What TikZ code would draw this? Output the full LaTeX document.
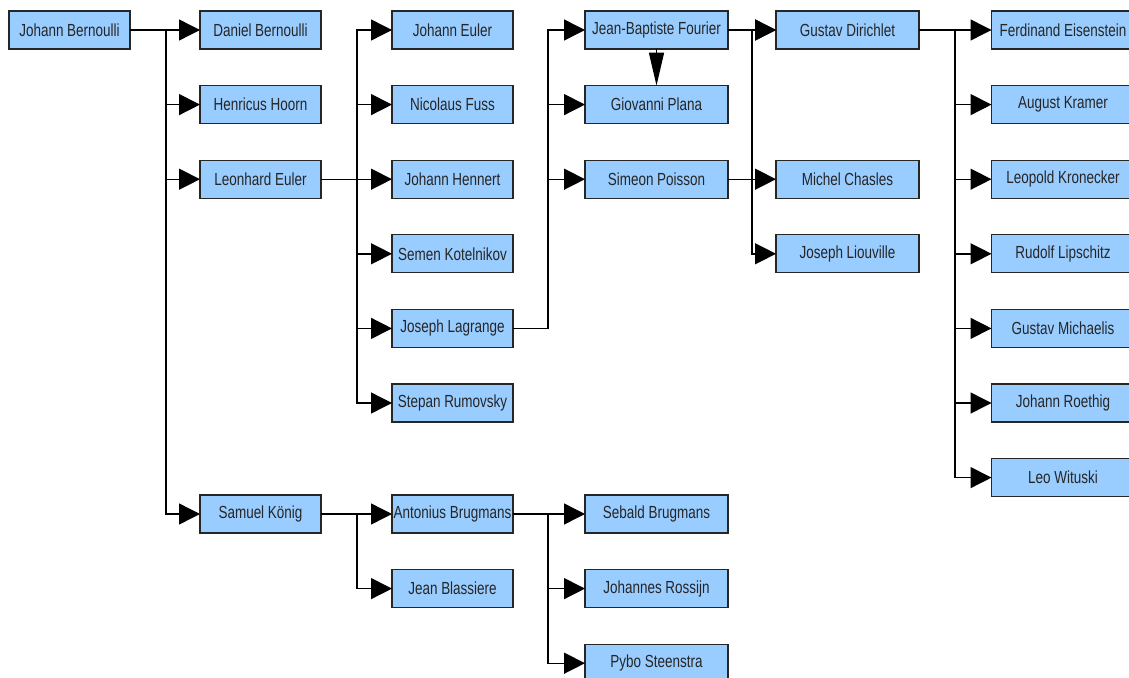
\documentclass[tikz,border=0pt]{standalone}
\usepackage{fontspec}
\setmainfont{Liberation Sans}[FakeStretch=0.77]
\usetikzlibrary{arrows.meta}

\definecolor{boxblue}{HTML}{99CCFF}

\begin{document}
\begin{tikzpicture}[x=1pt, y=-1pt,
  person/.style={draw=black!85, line width=1.3pt, fill=boxblue,
    minimum width=121pt, minimum height=38pt, inner sep=0pt, outer sep=0pt,
    font=\fontsize{17.5}{20}\selectfont, text=black!85},
  wide/.style={person, minimum width=143pt},
  link/.style={line width=1.4pt, -{Triangle[length=21pt,width=21pt]}},
  downlink/.style={line width=1.4pt, -{Triangle[length=33pt,width=15pt]}}]

  % Fix the frame and cut off what runs past it
  \useasboundingbox (0,0) rectangle (1129,677);
  \clip (0,0) rectangle (1129,677);

  % Root
  \node[person] (jb) at (69.5,30) {Johann Bernoulli};

  % Students of Johann Bernoulli
  \node[person] (daniel)   at (260.5,30)    {Daniel Bernoulli};
  \node[person] (hoorn)    at (260.5,104.6) {Henricus Hoorn};
  \node[person] (leonhard) at (260.5,179.2) {Leonhard Euler};
  \node[person] (samuel)   at (260.5,514)   {Samuel König};

  % Students of Euler and König
  \node[person] (jeuler)     at (452.5,30)    {Johann Euler};
  \node[person] (fuss)       at (452.5,104.6) {Nicolaus Fuss};
  \node[person] (hennert)    at (452.5,179.2) {Johann Hennert};
  \node[person] (kotelnikov) at (452.5,253.8) {Semen Kotelnikov};
  \node[person] (lagrange)   at (452.5,328.4) {Joseph Lagrange};
  \node[person] (rumovsky)   at (452.5,403)   {Stepan Rumovsky};
  \node[person] (antonius)   at (452.5,514)   {Antonius Brugmans};
  \node[person] (blassiere)  at (452.5,588.6) {Jean Blassiere};

  % Students of Lagrange and Brugmans
  \node[wide] (fourier)   at (656.5,30)    {Jean-Baptiste Fourier};
  \node[wide] (plana)     at (656.5,104.6) {Giovanni Plana};
  \node[wide] (poisson)   at (656.5,179.2) {Simeon Poisson};
  \node[wide] (sebald)    at (656.5,514)   {Sebald Brugmans};
  \node[wide] (rossijn)   at (656.5,588.6) {Johannes Rossijn};
  \node[wide] (steenstra) at (656.5,663.2) {Pybo Steenstra};

  % Students of Fourier and Poisson
  \node[wide] (dirichlet) at (847.5,30)    {Gustav Dirichlet};
  \node[wide] (chasles)   at (847.5,179.2) {Michel Chasles};
  \node[wide] (liouville) at (847.5,253.8) {Joseph Liouville};

  % Students of Dirichlet
  \node[wide] (eisenstein) at (1063,30)    {Ferdinand Eisenstein};
  \node[wide] (kramer)     at (1063,104.6) {August Kramer};
  \node[wide] (kronecker)  at (1063,179.2) {Leopold Kronecker};
  \node[wide] (lipschitz)  at (1063,253.8) {Rudolf Lipschitz};
  \node[wide] (michaelis)  at (1063,328.4) {Gustav Michaelis};
  \node[wide] (roethig)    at (1063,403)   {Johann Roethig};
  \node[wide] (wituski)    at (1063,477.6) {Leo Wituski};

  % Connectors from Johann Bernoulli
  \draw[link] (jb.east) -- ++(36,0) |- (daniel.west);
  \draw[link] (jb.east) -- ++(36,0) |- (hoorn.west);
  \draw[link] (jb.east) -- ++(36,0) |- (leonhard.west);
  \draw[link] (jb.east) -- ++(36,0) |- (samuel.west);

  % Connectors from Leonhard Euler
  \draw[link] (leonhard.east) -- ++(36,0) |- (jeuler.west);
  \draw[link] (leonhard.east) -- ++(36,0) |- (fuss.west);
  \draw[link] (leonhard.east) -- (hennert.west);
  \draw[link] (leonhard.east) -- ++(36,0) |- (kotelnikov.west);
  \draw[link] (leonhard.east) -- ++(36,0) |- (lagrange.west);
  \draw[link] (leonhard.east) -- ++(36,0) |- (rumovsky.west);

  % Connectors from Samuel König
  \draw[link] (samuel.east) -- (antonius.west);
  \draw[link] (samuel.east) -- ++(36,0) |- (blassiere.west);

  % Connectors from Joseph Lagrange
  \draw[link] (lagrange.east) -- ++(35,0) |- (fourier.west);
  \draw[link] (lagrange.east) -- ++(35,0) |- (plana.west);
  \draw[link] (lagrange.east) -- ++(35,0) |- (poisson.west);

  % Connectors from Antonius Brugmans
  \draw[link] (antonius.east) -- (sebald.west);
  \draw[link] (antonius.east) -- ++(35,0) |- (rossijn.west);
  \draw[link] (antonius.east) -- ++(35,0) |- (steenstra.west);

  % Connectors from Fourier and Poisson
  \draw[downlink] (fourier.south) -- (plana.north);
  \draw[link] (fourier.east) -- (dirichlet.west);
  \draw[link] (poisson.east) -- ++(24,0) |- (dirichlet.west);
  \draw[link] (poisson.east) -- (chasles.west);
  \draw[link] (poisson.east) -- ++(24,0) |- (liouville.west);

  % Connectors from Dirichlet
  \draw[link] (dirichlet.east) -- (eisenstein.west);
  \draw[link] (dirichlet.east) -- ++(36,0) |- (kramer.west);
  \draw[link] (dirichlet.east) -- ++(36,0) |- (kronecker.west);
  \draw[link] (dirichlet.east) -- ++(36,0) |- (lipschitz.west);
  \draw[link] (dirichlet.east) -- ++(36,0) |- (michaelis.west);
  \draw[link] (dirichlet.east) -- ++(36,0) |- (roethig.west);
  \draw[link] (dirichlet.east) -- ++(36,0) |- (wituski.west);

\end{tikzpicture}
\end{document}
